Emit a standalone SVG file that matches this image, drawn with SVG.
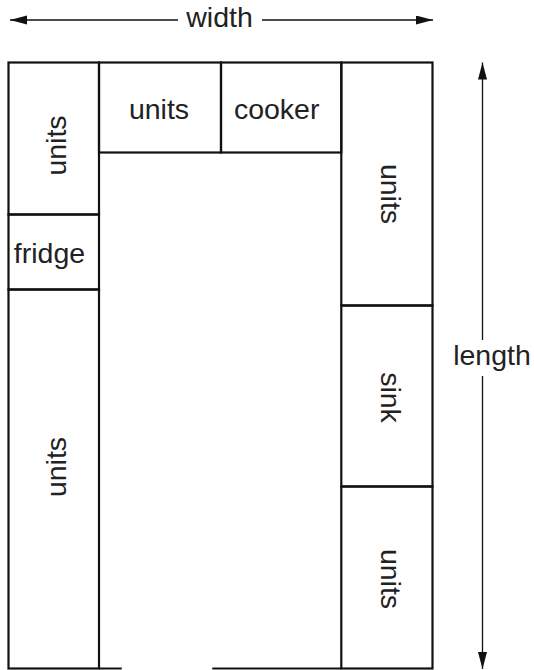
<svg xmlns="http://www.w3.org/2000/svg" width="534" height="670" viewBox="0 0 534 670">
<style>
.cell{fill:none;stroke:#111;stroke-width:2.2}
.wall{fill:none;stroke:#111;stroke-width:2.2}
.dim{fill:none;stroke:#111;stroke-width:1.3}
text{font-family:"Liberation Sans",Arial,sans-serif;font-size:28.5px;fill:#222;text-anchor:middle}
</style>
<defs>
<marker id="ah" markerUnits="userSpaceOnUse" markerWidth="18" markerHeight="10" refX="17" refY="4.5" orient="auto">
<path d="M0,0 L17,4.5 L0,9 z" fill="#111"/>
</marker>
</defs>
<g id="room">
<path class="wall" d="M99,668.5 L121.7,668.5 M212.3,668.5 L341.3,668.5"/>
</g>
<g id="units-left-top">
<rect class="cell" x="8.5" y="62.5" width="90.5" height="152"/>
<text transform="translate(65.7,145.5) rotate(-90)">units</text>
</g>
<g id="fridge">
<rect class="cell" x="8.5" y="214.5" width="90.5" height="75"/>
<text x="49.5" y="262.7">fridge</text>
</g>
<g id="units-left-bottom">
<rect class="cell" x="8.5" y="289.5" width="90.5" height="379"/>
<text transform="translate(65.7,467) rotate(-90)">units</text>
</g>
<g id="units-top">
<rect class="cell" x="99" y="62.5" width="122" height="90"/>
<text x="159" y="119">units</text>
</g>
<g id="cooker">
<rect class="cell" x="221" y="62.5" width="120.3" height="90"/>
<text x="276.7" y="119">cooker</text>
</g>
<g id="units-right-top">
<rect class="cell" x="341.3" y="62.5" width="91.2" height="243"/>
<text transform="translate(380.5,194) rotate(90)">units</text>
</g>
<g id="sink">
<rect class="cell" x="341.3" y="305.5" width="91.2" height="181"/>
<text transform="translate(380.5,397.5) rotate(90)">sink</text>
</g>
<g id="units-right-bottom">
<rect class="cell" x="341.3" y="486.5" width="91.2" height="182"/>
<text transform="translate(380.5,579) rotate(90)">units</text>
</g>
<g id="connectors">
<path class="dim" d="M178,20 L10,20" marker-end="url(#ah)"/>
<path class="dim" d="M262,20 L433,20" marker-end="url(#ah)"/>
<path class="dim" d="M482.5,340 L482.5,62.5" marker-end="url(#ah)"/>
<path class="dim" d="M482.5,376 L482.5,669" marker-end="url(#ah)"/>
</g>
<g id="labels">
<text x="219.5" y="26.7">width</text>
<text x="492" y="365">length</text>
</g>
</svg>
